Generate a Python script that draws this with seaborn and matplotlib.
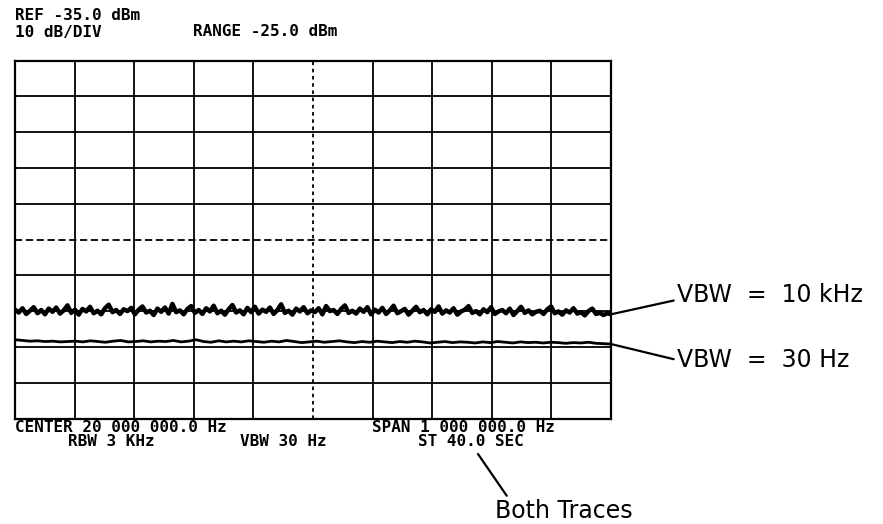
import numpy as np
import pandas as pd
import matplotlib
matplotlib.use("Agg")
import matplotlib.pyplot as plt
import seaborn as sns

# Screen settings
ref_level = -35.0        # dBm, top of screen
db_per_div = 10
center_mhz = 20.0
span_mhz = 1.0

# VBW = 10 kHz trace (dBm), left to right
trace_10k = [
    -104.6, -105.4, -104.2, -105.8, -104.9, -103.9, -105.6, -104.7, -105.9, -104.3,
    -105.2, -104.0, -105.7, -104.8, -103.4, -105.5, -104.6, -106.0, -104.4, -105.1,
    -103.8, -105.6, -104.9, -105.9, -104.2, -103.2, -105.3, -104.7, -105.8, -104.5,
    -105.0, -104.1, -105.9, -104.6, -103.7, -105.4, -104.9, -106.1, -104.3, -105.2,
    -104.0, -105.7, -103.0, -105.3, -104.8, -105.9, -104.4, -103.6, -105.5, -104.7,
    -105.8, -104.2, -105.1, -103.5, -105.6, -104.9, -106.0, -104.5, -103.3, -105.4,
    -104.8, -105.9, -104.1, -105.3, -103.8, -105.7, -104.6, -105.2, -104.0, -105.8,
    -104.7, -103.1, -105.5, -104.9, -106.0, -104.3, -105.1, -103.9, -105.6, -104.8,
    -105.3, -104.2, -105.9, -103.6, -105.0, -104.7, -105.8, -104.4, -103.4, -105.5,
    -104.9, -105.7, -104.3, -105.2, -103.9, -105.9, -104.6, -105.4, -104.1, -105.8,
    -104.8, -103.5, -105.6, -105.0, -104.4, -106.0, -104.9, -103.8, -105.3, -104.7,
    -105.9, -104.5, -105.2, -103.7, -105.7, -104.8, -105.4, -104.2, -106.0, -105.1,
    -104.6, -103.6, -105.5, -105.0, -105.9, -104.5, -105.3, -103.9, -105.8, -105.1,
    -104.7, -105.6, -104.3, -106.1, -105.0, -103.8, -105.5, -104.8, -105.9, -105.2,
    -104.9, -105.8, -104.5, -103.7, -105.6, -105.1, -106.0, -104.8, -105.4, -104.2,
    -105.7, -105.3, -106.2, -105.0, -104.3, -105.8, -105.5, -106.1, -105.6, -105.9,
]

# VBW = 30 Hz trace (dBm), left to right
trace_30 = [
    -113.0, -113.2, -113.4, -113.3, -113.5, -113.4, -113.6, -113.5, -113.4, -113.6,
    -113.3, -113.5, -113.7, -113.4, -113.2, -113.6, -113.5, -113.3, -113.6, -113.4,
    -113.5, -113.2, -113.6, -113.4, -113.0, -113.5, -113.7, -113.3, -113.6, -113.4,
    -113.6, -113.3, -113.5, -113.7, -113.4, -113.6, -113.2, -113.5, -113.8, -113.6,
    -113.4, -113.7, -113.5, -113.3, -113.6, -113.8, -113.5, -113.7, -113.4, -113.6,
    -113.8, -113.5, -113.7, -113.4, -113.6, -113.9, -113.7, -113.5, -113.8, -113.6,
    -113.7, -113.9, -113.6, -113.8, -113.5, -113.7, -113.9, -113.6, -113.8, -113.7,
    -113.9, -113.7, -113.8, -114.0, -113.8, -113.9, -113.7, -114.0, -114.1, -114.2,
]

top_lines = ["REF -35.0 dBm", "10 dB/DIV", "RANGE -25.0 dBm"]
bottom_lines = ["CENTER 20 000 000.0 Hz", "SPAN 1 000 000.0 Hz",
                "RBW 3 KHz", "VBW 30 Hz", "ST 40.0 SEC"]
trace_labels = ["VBW  =  10 kHz", "VBW  =  30 Hz", "Both Traces"]

sns.set_theme(style="white")
plt.rcParams['font.family'] = ['DejaVu Sans']

W, H = 883, 524
fig = plt.figure(figsize=(W / 100, H / 100), dpi=100)
ax = fig.add_axes([15 / W, (H - 418.5) / H, 596 / W, 358 / H])

f_lo = center_mhz - span_mhz / 2
f_hi = center_mhz + span_mhz / 2
y_lo = ref_level - 10 * db_per_div

df1 = pd.DataFrame({"freq": np.linspace(f_lo, f_hi, len(trace_10k)), "dbm": trace_10k})
df2 = pd.DataFrame({"freq": np.linspace(f_lo, f_hi, len(trace_30)), "dbm": trace_30})

sns.lineplot(data=df1, x="freq", y="dbm", ax=ax, color="black", lw=3.2)
sns.lineplot(data=df2, x="freq", y="dbm", ax=ax, color="black", lw=2.0)

ax.set_xlim(f_lo, f_hi)
ax.set_ylim(y_lo, ref_level)

# graticule: 10 x 10 divisions, centre lines dotted
xs = np.linspace(f_lo, f_hi, 11)
ys = np.linspace(y_lo, ref_level, 11)
for i, x in enumerate(xs[1:-1], start=1):
    ax.axvline(x, color="black", lw=1.3, ls=(0, (2, 2)) if i == 5 else "-", zorder=1)
for i, y in enumerate(ys[1:-1], start=1):
    ax.axhline(y, color="black", lw=1.3, ls=(0, (4, 2)) if i == 5 else "-", zorder=1)

ax.set_xticks([])
ax.set_yticks([])
ax.set_xlabel("")
ax.set_ylabel("")
for s in ax.spines.values():
    s.set_color("black")
    s.set_linewidth(1.6)

mono = dict(family="DejaVu Sans Mono", fontweight="bold", fontsize=11.5,
            va="center", ha="left", color="black")

def px(x, y):
    return x / W, (H - y) / H

fig.text(*px(15, 16), top_lines[0], **mono)
fig.text(*px(15, 32), top_lines[1], **mono)
fig.text(*px(193, 32), top_lines[2], **mono)

fig.text(*px(15, 427), bottom_lines[0], **mono)
fig.text(*px(372, 427), bottom_lines[1], **mono)
fig.text(*px(68, 442), bottom_lines[2], **mono)
fig.text(*px(240, 442), bottom_lines[3], **mono)
fig.text(*px(418, 442), bottom_lines[4], **mono)

line_kw = dict(arrowstyle="-", color="black", lw=1.6, shrinkA=0, shrinkB=0)
lab = dict(textcoords="figure fraction", fontsize=17, color="black", va="center", ha="left")
ax.annotate(trace_labels[0], xy=(f_hi, trace_10k[-1]), xytext=px(677, 295),
            arrowprops=dict(relpos=(0, 0.3), **line_kw), annotation_clip=False, **lab)
ax.annotate(trace_labels[1], xy=(f_hi, trace_30[-1]), xytext=px(677, 360),
            arrowprops=dict(relpos=(0, 0.5), **line_kw), annotation_clip=False, **lab)
ax.annotate(trace_labels[2], xy=px(478, 454), xycoords="figure fraction",
            xytext=px(564, 511), textcoords="figure fraction", fontsize=17,
            color="black", va="center", ha="center",
            arrowprops=dict(relpos=(0.1, 1.0), **line_kw))

fig.savefig("out.png", dpi=100, facecolor="white")
